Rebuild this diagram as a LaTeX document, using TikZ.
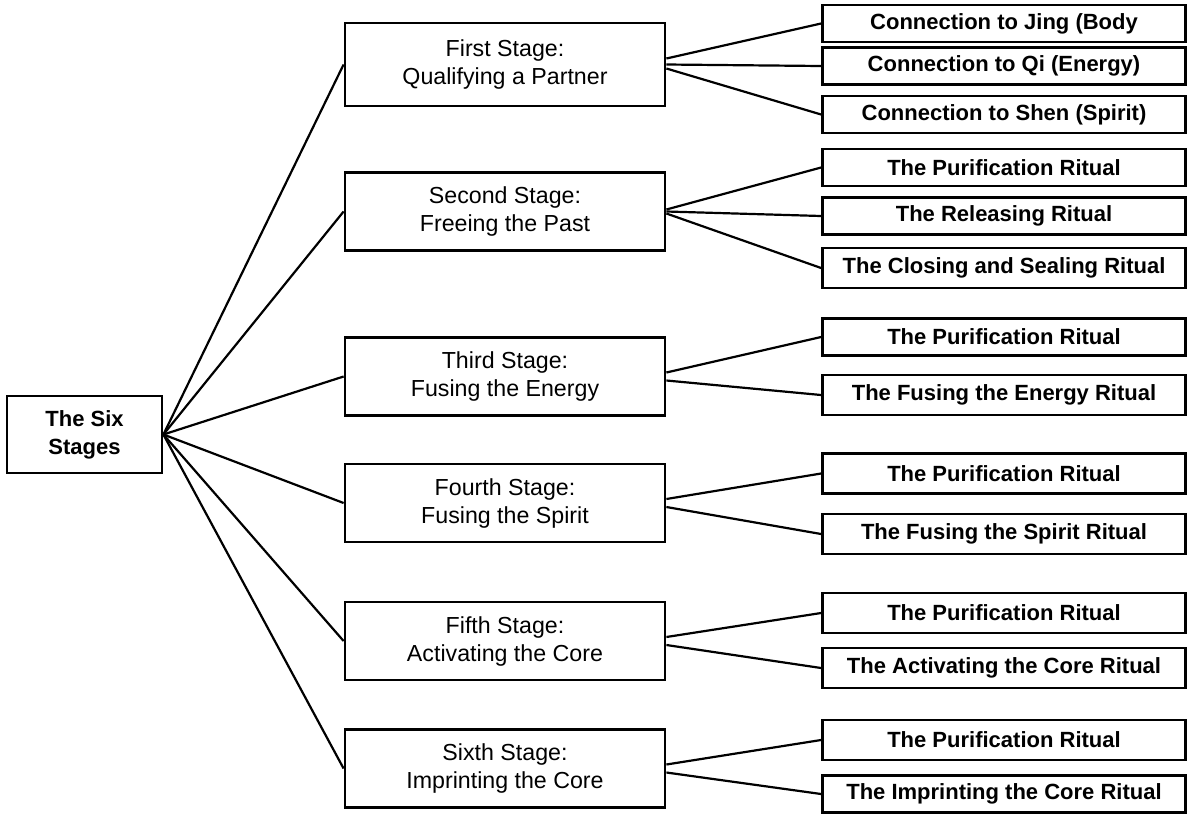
\documentclass[tikz,border=0pt]{standalone}
\usepackage{fontspec}
\setmainfont{Liberation Sans}
\usetikzlibrary{positioning}

\begin{document}
\begin{tikzpicture}[
    x=0.5pt,y=-0.5pt,
    every node/.style={font=\fontsize{11}{14}\selectfont\bfseries},
    box/.style={draw,line width=1.4pt,align=center,inner sep=2pt},
    rootbox/.style={box,minimum width=77.5pt,minimum height=38.5pt},
    stage/.style={box,minimum width=160pt,minimum height=39pt,
                  font=\fontsize{11.6}{14}\selectfont},
    rite/.style={box,minimum width=181.5pt,minimum height=18.5pt},
    link/.style={line width=1.1pt},
  ]
  \useasboundingbox (0,0) rectangle (1189,815);

  \node[rootbox] (six) at (84.5,434.5) {The Six\\Stages};

  \node[stage,minimum height=41.5pt] (s1) at (505,64.5) {First Stage:\\Qualifying a Partner};
  \node[stage] (s2) at (505,211.5) {Second Stage:\\Freeing the Past};
  \node[stage] (s3) at (505,376.5) {Third Stage:\\Fusing the Energy};
  \node[stage] (s4) at (505,503) {Fourth Stage:\\Fusing the Spirit};
  \node[stage] (s5) at (505,641) {Fifth Stage:\\Activating the Core};
  \node[stage] (s6) at (505,768.5) {Sixth Stage:\\Imprinting the Core};

  \node[rite] (r11) at (1004,23.5) {Connection to Jing (Body};
  \node[rite] (r12) at (1004,66) {Connection to Qi (Energy)};
  \node[rite] (r13) at (1004,114.5) {Connection to Shen (Spirit)};
  \node[rite] (r21) at (1004,167.5) {The Purification Ritual};
  \node[rite] (r22) at (1004,216) {The Releasing Ritual};
  \node[rite,minimum height=20pt] (r23) at (1004,268) {The Closing and Sealing Ritual};
  \node[rite] (r31) at (1004,337) {The Purification Ritual};
  \node[rite,minimum height=20pt] (r32) at (1004,395) {The Fusing the Energy Ritual};
  \node[rite,minimum height=20pt] (r41) at (1004,473.5) {The Purification Ritual};
  \node[rite,minimum height=20pt] (r42) at (1004,534) {The Fusing the Spirit Ritual};
  \node[rite,minimum height=20pt] (r51) at (1004,613) {The Purification Ritual};
  \node[rite,minimum height=20pt] (r52) at (1004,668) {The Activating the Core Ritual};
  \node[rite,minimum height=20pt] (r61) at (1004,740) {The Purification Ritual};
  \node[rite] (r62) at (1004,794) {The Imprinting the Core Ritual};

  \foreach \i in {1,...,6}
    \draw[link] (six.east) -- (s\i.west);

  \draw[link] ([yshift=3pt]s1.east) -- (r11.west);
  \draw[link] (s1.east) -- (r12.west);
  \draw[link] ([yshift=-2pt]s1.east) -- (r13.west);
  \draw[link] ([yshift=1pt]s2.east) -- (r21.west);
  \draw[link] (s2.east) -- (r22.west);
  \draw[link] ([yshift=-1pt]s2.east) -- (r23.west);
  \foreach \i in {3,...,6} {
    \draw[link] ([yshift=2pt]s\i.east) -- (r\i1.west);
    \draw[link] ([yshift=-2pt]s\i.east) -- (r\i2.west);
  }
\end{tikzpicture}
\end{document}
